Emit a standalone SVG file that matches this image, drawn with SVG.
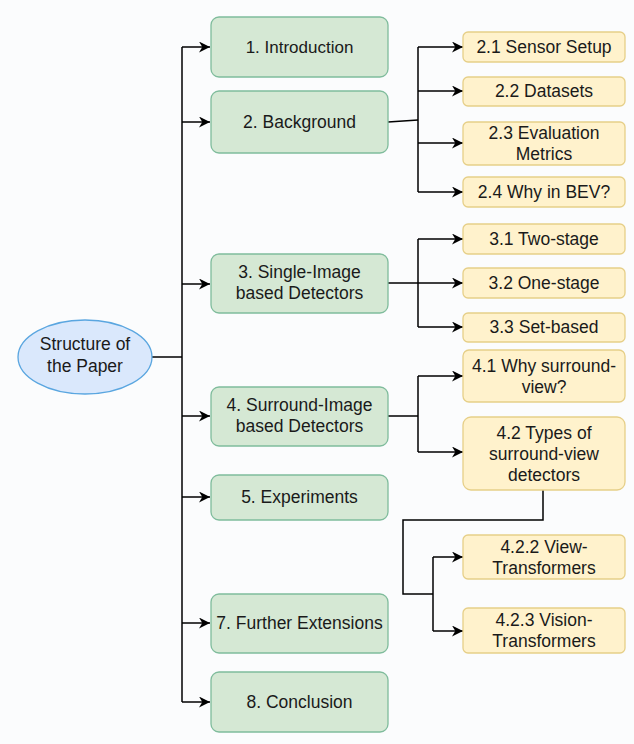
<svg xmlns="http://www.w3.org/2000/svg" width="634" height="744" viewBox="0 0 634 744">
<defs>
<marker id="arr" viewBox="0 0 10 10" refX="10" refY="5" markerWidth="11" markerHeight="11" markerUnits="userSpaceOnUse" orient="auto">
<path d="M0,0 L10,5 L0,10 L3,5 Z" fill="#000"/>
</marker>
<style>
.g{fill:#d5e8d4;stroke:#7fbc9c;stroke-width:1.3}
.y{fill:#fff2cc;stroke:#e6cf88;stroke-width:1.3}
.e{fill:#dae8fc;stroke:#5aa6e0;stroke-width:1.3}
text{font-family:"Liberation Sans",Arial,sans-serif;font-size:17.5px;fill:#1a1a1a;text-anchor:middle}
.c path{fill:none;stroke:#000;stroke-width:1.5}
.a{marker-end:url(#arr)}
</style>
</defs>
<rect width="634" height="744" fill="#fbfcfd"/>
<g class="c" id="connectors">
<path d="M152,357 H182"/>
<path d="M182,47 V702"/>
<path class="a" d="M182,47 H210"/>
<path class="a" d="M182,122 H210"/>
<path class="a" d="M182,284 H210"/>
<path class="a" d="M182,416 H210"/>
<path class="a" d="M182,497 H210"/>
<path class="a" d="M182,623 H210"/>
<path class="a" d="M182,702 H210"/>
<path d="M388,122 L418,120"/>
<path d="M418,47 V192"/>
<path class="a" d="M418,47 H463"/>
<path class="a" d="M418,91 H463"/>
<path class="a" d="M418,143 H463"/>
<path class="a" d="M418,192 H463"/>
<path class="a" d="M388,283 H463"/>
<path d="M418,239 V327"/>
<path class="a" d="M418,239 H463"/>
<path class="a" d="M418,327 H463"/>
<path d="M388,416 H418"/>
<path d="M418,376 V452"/>
<path class="a" d="M418,376 H463"/>
<path class="a" d="M418,452 H463"/>
<path d="M543,490 V520 H403 V594 H433"/>
<path d="M433,557 V631"/>
<path class="a" d="M433,557 H463"/>
<path class="a" d="M433,631 H463"/>
</g>
<g id="root"><ellipse class="e" cx="85" cy="357" rx="67" ry="37"/><text x="85" y="350">Structure of</text><text x="85" y="372">the Paper</text></g>
<g id="n1"><rect class="g" x="211" y="17" width="177" height="60" rx="8"/><text x="299.5" y="53" style="font-size:17px">1. Introduction</text></g>
<g id="n2"><rect class="g" x="211" y="91" width="177" height="62" rx="8"/><text x="299.5" y="128">2. Background</text></g>
<g id="n3"><rect class="g" x="211" y="254" width="177" height="59" rx="8"/><text x="299.5" y="278">3. Single-Image</text><text x="299.5" y="299">based Detectors</text></g>
<g id="n4"><rect class="g" x="211" y="387" width="177" height="59" rx="8"/><text x="299.5" y="411">4. Surround-Image</text><text x="299.5" y="432">based Detectors</text></g>
<g id="n5"><rect class="g" x="211" y="475" width="177" height="45" rx="8"/><text x="299.5" y="503">5. Experiments</text></g>
<g id="n7"><rect class="g" x="211" y="594" width="177" height="59" rx="8"/><text x="299.5" y="629">7. Further Extensions</text></g>
<g id="n8"><rect class="g" x="211" y="672" width="177" height="60" rx="8"/><text x="299.5" y="708">8. Conclusion</text></g>
<g id="n21"><rect class="y" x="463" y="32" width="162" height="30" rx="5"/><text x="544" y="53">2.1 Sensor Setup</text></g>
<g id="n22"><rect class="y" x="463" y="77" width="162" height="29" rx="5"/><text x="544" y="97">2.2 Datasets</text></g>
<g id="n23"><rect class="y" x="463" y="122" width="162" height="43" rx="5"/><text x="544" y="139">2.3 Evaluation</text><text x="544" y="160">Metrics</text></g>
<g id="n24"><rect class="y" x="463" y="177" width="162" height="30" rx="5"/><text x="544" y="198">2.4 Why in BEV?</text></g>
<g id="n31"><rect class="y" x="463" y="224" width="162" height="30" rx="5"/><text x="544" y="245">3.1 Two-stage</text></g>
<g id="n32"><rect class="y" x="463" y="268" width="162" height="30" rx="5"/><text x="544" y="289">3.2 One-stage</text></g>
<g id="n33"><rect class="y" x="463" y="313" width="162" height="29" rx="5"/><text x="544" y="333">3.3 Set-based</text></g>
<g id="n41"><rect class="y" x="463" y="350" width="162" height="52" rx="6"/><text x="544" y="372">4.1 Why surround-</text><text x="544" y="393">view?</text></g>
<g id="n42"><rect class="y" x="463" y="417" width="162" height="73" rx="8"/><text x="544" y="438.5">4.2 Types of</text><text x="544" y="459.5">surround-view</text><text x="544" y="480.5">detectors</text></g>
<g id="n422"><rect class="y" x="463" y="535" width="162" height="44" rx="5"/><text x="544" y="553">4.2.2 View-</text><text x="544" y="574">Transformers</text></g>
<g id="n423"><rect class="y" x="463" y="608" width="162" height="45" rx="5"/><text x="544" y="626">4.2.3 Vision-</text><text x="544" y="647">Transformers</text></g>
</svg>
